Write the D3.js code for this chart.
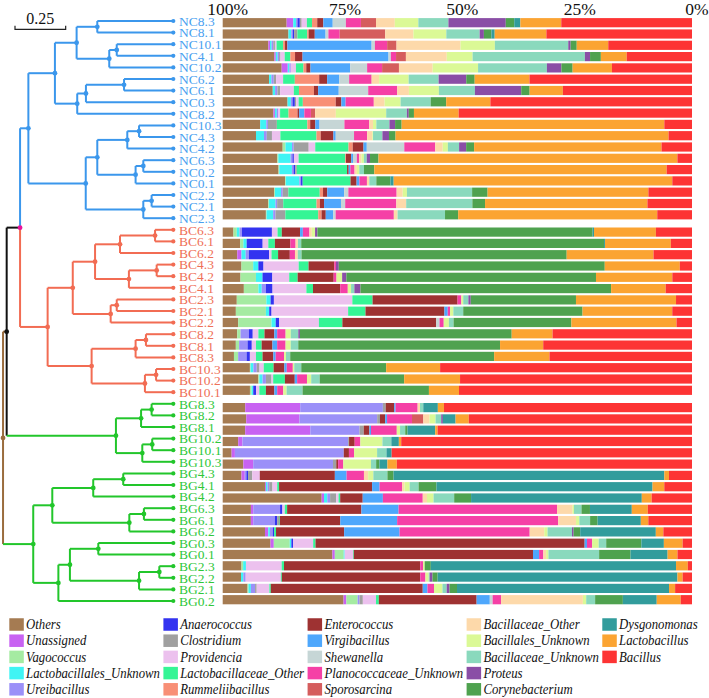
<!DOCTYPE html>
<html><head><meta charset="utf-8">
<script src="https://cdn.jsdelivr.net/npm/d3@7"></script>
<style>body{margin:0;background:#fff}svg{display:block}</style>
</head><body>
<script>
// ---------- DATA ----------
const taxa = ["Others","Unassigned","Vagococcus","Lactobacillales_Unknown","Ureibacillus","Anaerococcus","Clostridium","Providencia","Lactobacillaceae_Other","Rummeliibacillus","Enterococcus","Virgibacillus","Shewanella","Planococcaceae_Unknown","Sporosarcina","Bacillaceae_Other","Bacillales_Unknown","Bacillaceae_Unknown","Proteus","Corynebacterium","Dysgonomonas","Lactobacillus","Bacillus"];
const taxaColors = ["#a57b52","#c862f2","#a5eba2","#3ff4f4","#9b90f8","#3333f0","#a0a0a0","#ecc1ee","#35f595","#f88f76","#9e3232","#4ea7fc","#c6d6d6","#f540a6","#d55d5d","#fdd9aa","#dbf996","#8ad9bd","#8a4ea6","#4fa24f","#329c9c","#fba432","#fd3434"];

const samplesNC = ["NC8.3","NC8.1","NC10.1","NC4.1","NC10.2","NC6.2","NC6.1","NC0.3","NC8.2","NC10.3","NC4.3","NC4.2","NC6.3","NC0.2","NC0.1","NC2.2","NC2.1","NC2.3"];
const samplesBC = ["BC6.3","BC6.1","BC6.2","BC4.3","BC4.2","BC4.1","BC2.3","BC2.1","BC2.2","BC8.2","BC8.1","BC8.3","BC10.3","BC10.2","BC10.1"];
const samplesBG = ["BG8.3","BG8.2","BG8.1","BG10.2","BG10.1","BG10.3","BG4.3","BG4.1","BG4.2","BG6.3","BG6.1","BG6.2","BG0.3","BG0.1","BG2.3","BG2.2","BG2.1","BG0.2"];

// relative abundance (%) per sample, in taxa order
const valuesNC = [
 [13.6,1.4,0,0.6,0.3,0.5,0.4,1.1,1.1,1.1,1.3,2.0,2.8,3.2,3.2,4.0,5.0,6.4,12.2,1.8,1.3,8.7,27.8],
 [14.0,0,0,0.6,0.3,0.3,0.7,0,2.1,0.3,1.3,2.3,0.6,2.4,9.7,6.0,7.0,7.1,0.9,1.6,0.7,11.0,31.0],
 [9.7,0.35,0,0.35,0.35,0,0.35,0.35,1.4,0.4,0.5,17.9,0.7,2.6,2.0,13.6,7.3,15.6,0.5,1.3,0,6.7,17.8],
 [11.0,0.3,0,0.4,0.3,0,0.3,0.9,1.2,1.0,1.6,18.3,0.5,1.1,2.1,8.7,5.5,23.9,1.1,2.3,0,5.5,13.9],
 [12.6,1.3,0,0.35,0.3,0,0,1.1,1.6,0.6,0.9,8.5,3.6,3.2,3.6,7.2,9.7,14.7,3.1,2.4,0,8.4,17.1],
 [9.9,0,0,0.5,0.5,0,0.5,1.5,2.5,5.2,1.7,2.6,2.1,4.8,0,1.6,6.3,6.4,5.9,1.8,0,11.7,34.7],
 [10.7,0,0,0.5,0.5,0,0.6,2.9,1.1,3.2,0.9,4.4,6.3,6.2,0,2.5,6.4,7.7,9.9,1.8,0,7.1,27.6],
 [13.8,0,0,0.7,0.35,0.5,0.3,0.5,0.9,7.0,1.2,0.9,0,6.0,0,2.3,3.4,6.4,0,3.3,0,9.4,42.9],
 [10.8,0.3,0,0.4,0.35,0,0,0.35,1.8,1.9,0.35,1.1,0,1.4,0.9,4.4,10.7,4.4,0.4,1.1,0,9.5,49.6],
 [8.0,0,0,1.3,0.35,0,1.9,0,6.5,0.6,1.1,0.9,5.3,5.3,0,0.8,0.7,2.8,1.2,1.4,0,56.0,5.9],
 [7.1,0,0,1.7,0.6,0,1.1,1.8,7.7,0.9,2.7,0.5,3.9,2.8,0,1.1,0.15,2.0,1.4,1.4,0,58.2,5.0],
 [12.8,0,0.6,1.4,0.35,0,3.2,1.4,7.1,0.9,2.3,0.7,8.0,6.6,0,1.6,1.1,2.4,1.5,1.7,0,40.0,6.5],
 [11.6,0,0.2,2.6,0.4,0.3,0,1.0,9.9,0.15,1.1,0.4,0.8,0.5,0,0.5,0.5,0.6,0.7,1.8,0,63.4,3.1],
 [11.9,0,0.15,2.7,0.35,0.35,0.35,0,10.7,0,0.35,0.35,0,0.9,0,0.5,0.5,1.0,0,2.2,0,62.3,5.4],
 [13.3,0,0.15,2.9,0.35,0.35,0,0,10.2,0,1.3,0.6,0,1.6,0,0.5,0,1.5,0,3.0,0.7,59.4,4.2],
 [11.0,0,0.15,1.3,0.35,0,1.2,0,6.7,0.7,0.9,3.6,0.9,10.3,0,1.3,0.9,13.9,0,3.3,0,34.3,9.3],
 [9.7,0,0.15,1.4,0.35,0,1.3,0,7.1,0.7,0.9,3.6,0.9,10.9,0,2.1,0,14.1,0,2.7,0,34.6,9.5],
 [9.2,0,0.15,1.4,0.5,0,2.1,0,7.0,0.7,0.9,1.6,0.5,12.4,0,0.8,0,10.1,0,2.8,0,42.4,7.4]
];
const valuesBC = [
 [2.3,0,0.7,0.6,0.5,6.4,0,1.2,0.9,0,3.9,0.6,0,1.4,0,0.5,0.7,0,0.5,58.7,0.3,13.2,7.7],
 [3.7,0,0.7,0.7,0,3.4,0,1.2,1.4,0,3.3,0,0,1.1,0,0.5,0,0.7,0,64.4,0.2,14.0,4.5],
 [3.1,0.9,0,0.9,0.7,4.3,0,0.5,1.4,0,2.5,0,0,1.1,0,0.6,0,0.8,0,56.5,0,18.5,8.2],
 [4.0,0,2.5,1.1,0,1.1,0,7.5,2.1,0,5.5,0,0,0.35,0,0,0,0,0.6,56.7,0,16.0,2.6],
 [3.8,0,3.3,1.4,0,2.1,0,3.6,1.8,0,7.7,0,0,0.6,0,0,1.2,0,0.9,53.3,0,16.3,4.2],
 [4.5,0,3.1,0.7,0.9,1.4,0,7.2,1.4,0,5.8,0,0,1.6,0,0,0.7,0.7,1.3,53.3,0,11.6,5.6],
 [3.0,0,6.3,0.9,0,0.7,0,16.7,4.3,0,18.1,0,0,0.8,0,0,0.4,1.1,0.5,22.4,0,21.3,3.4],
 [2.8,0,6.4,0.7,0,0.5,0,16.3,3.7,0,16.8,0.7,0,0.5,0,0,0.7,2.1,0,25.4,0,19.1,4.2],
 [3.3,0,7.1,0.9,0,0.7,0,8.5,5.0,0,20.0,0,0.7,0.9,0,0,1.1,1.0,0,25.1,0,22.4,3.3],
 [3.1,0,0.7,0,1.8,0.8,0,1.2,1.3,0,2.1,0.6,0,1.8,0,0,1.1,1.6,0.35,45.1,0,8.7,29.7],
 [2.8,0,0.7,0,1.8,0.9,0,0.9,1.2,0,2.3,1.0,0,1.8,0,0,1.1,1.6,0,43.0,0,9.2,31.7],
 [2.4,0,0.9,0,1.8,0.7,0,1.3,1.4,0,2.3,0.5,0,1.8,0,0,0.4,0.9,0,43.5,0,11.8,30.4],
 [5.8,0,0.15,0.6,0.7,0,0.6,0.9,2.1,0,2.3,0.5,0,1.3,0,0,0.3,1.5,0,18.1,0,11.5,53.7],
 [7.6,0,0.2,0.7,0.7,0,1.2,0.35,2.5,0,2.1,0.5,0,2.1,0,0,0.9,1.8,0,18.0,0,11.9,49.4],
 [5.8,0,0.35,0.35,0,0.6,0,0.7,1.4,0,1.8,0.6,0,1.3,0,0,0.7,3.4,0,26.9,0,6.4,49.6]
];
const valuesBG = [
 [4.8,11.7,0,0,17.6,0,0.6,0,0,0,1.8,0.3,0,4.7,0,0.5,0,0.7,0,0,3.1,1.3,52.8],
 [5.0,11.3,0,0,16.5,0,0.6,0,0,0,1.1,0.4,0,5.3,2.4,1.3,1.3,1.2,0.35,0,2.7,2.8,47.4],
 [4.8,13.9,0,0,10.5,0,0.9,0,0,0,1.2,0.35,0,5.5,0,0,0.7,1.1,0,0.5,5.9,0.5,54.3],
 [3.3,0.9,0,0,22.5,0,0.2,0,0,0,1.2,0,0,1.2,0,0,4.7,1.9,0,0,1.6,0.5,61.9],
 [1.9,0.7,0,0,23.2,0,0,0,0,0,1.1,0,0,1.1,0,0,4.9,2.0,0,0,1.1,0,64.0],
 [4.4,2.1,0,0,17.0,0,0.7,0,0,0,0.4,0,0,1.1,0,0,5.9,1.1,0,0.7,1.7,2.0,62.9],
 [4.0,0.7,0,0,0.35,0.35,0.9,1.6,0,0,16.0,2.5,0,3.7,0,0.9,1.1,3.0,0,1.3,57.7,1.0,4.9],
 [9.0,0.2,0,0.35,0.35,0,0.7,1.0,0.4,0,19.8,1.6,0,4.8,0,0.5,1.1,1.9,0,3.8,46.0,2.5,5.9],
 [21.1,0.5,0,0.7,0.6,0,1.3,0.5,0.35,0,4.8,4.3,0,8.5,0,0.9,1.4,4.4,0,3.6,36.4,2.1,8.6],
 [6.0,0.5,0,0,5.7,0.5,0,0.5,0.5,0,15.8,7.9,0,33.7,0,3.3,0.3,1.6,0,1.8,8.9,3.4,9.4],
 [6.0,0.5,0,0,4.6,0.5,0.4,0,0.15,0,12.9,12.1,0,34.3,0,3.8,0.7,2.3,0,1.6,9.2,1.6,9.3],
 [9.0,0.7,0,0.35,0.6,0.3,0,0,0.4,0,14.5,11.8,0,27.7,0,3.1,0.7,5.2,0.35,1.4,16.1,1.6,6.1],
 [10.2,0.7,3.4,0.35,0,0.35,0,4.3,0.5,0,57.4,0.5,0,1.1,0,0,1.4,1.6,0,7.5,4.8,4.0,2.0],
 [23.4,0.5,1.9,0.2,0,0,0,1.8,0.15,0,38.2,1.3,0,0.9,0,0.6,0.5,10.8,0,6.7,7.9,2.1,3.1],
 [4.0,0,0.35,0.6,0,0,0,7.6,0.5,0,29.0,0,0,0.6,0,0,0.35,0,0,1.3,52.2,2.5,0.9],
 [3.9,0,0,0.5,0.5,0,0,7.5,0.2,0,29.5,0,0,1.1,0,0,0.7,0.2,0.6,1.1,51.1,1.1,2.0],
 [5.3,0,0.2,0.5,0.9,0,0.35,2.7,0.3,0,32.4,1.0,0,1.4,0,0,1.8,0.9,0.6,1.6,45.2,1.3,3.6],
 [25.7,0.6,2.4,0,0.4,0,0.7,2.8,0.6,0,20.8,2.8,0.6,1.8,0,17.4,0.7,1.9,0,5.9,7.2,5.1,2.4]
];

const tickValues = [100, 75, 50, 25, 0];
const tickLabels = ["100%", "75%", "50%", "25%", "0%"];
const scaleBarValue = 0.25;
const scaleBarLabel = "0.25";

// clustering tree: [height, child, child]; leaves are sample names
const tree = [0.840,
  [0.822,
    [0.756,
      [0.715,
        [0.584,
          [0.477, [0.375, "NC8.3", "NC8.1"], [0.316, [0.279, "NC10.1", "NC4.1"], "NC10.2"]],
          [0.474, [0.431, [0.243, "NC6.2", "NC6.1"], "NC0.3"], "NC8.2"]],
        [0.432,
          [0.375, [0.227, [0.169, "NC10.3", "NC4.3"], "NC4.2"], [0.186, [0.148, "NC6.3", "NC0.2"], "NC0.1"]],
          [0.148, [0.107, "NC2.2", "NC2.1"], "NC2.3"]]],
      [0.620,
        [0.496,
          [0.386, [0.263, [0.090, "BC6.3", "BC6.1"], "BC6.2"], [0.219, [0.082, "BC4.3", "BC4.2"], "BC4.1"]],
          [0.309, [0.279, "BC2.3", "BC2.1"], "BC2.2"]],
        [0.403,
          [0.186, [0.135, "BC8.2", "BC8.1"], "BC8.3"],
          [0.140, [0.085, "BC10.3", "BC10.2"], "BC10.1"]]]],
    [0.283, [0.159, [0.107, "BG8.3", "BG8.2"], "BG8.1"], [0.153, [0.104, "BG10.2", "BG10.1"], "BG10.3"]]],
  [0.691,
    [0.597, [0.395, [0.247, "BG4.3", "BG4.1"], "BG4.2"], [0.217, [0.145, "BG6.3", "BG6.1"], "BG6.2"]],
    [0.567, [0.510, [0.370, "BG0.3", "BG0.1"], [0.169, [0.069, "BG2.3", "BG2.2"], "BG2.1"]], "BG0.2"]]];

// ---------- STYLE ----------
const groupLine = {NC: "#3b97ec", BC: "#f26c53", BG: "#22c62b"};
const groupText = {NC: "#4a9ff0", BC: "#ef7058", BG: "#2fc73a"};
const rootColor = "#9a6c3e", pinkColor = "#e8149b", blackColor = "#111";
const serif = "'Liberation Serif','Times New Roman',serif";

const W = 709, H = 698;
const svg = d3.select("body").append("svg").attr("width", W).attr("height", H);

// ---------- BARS ----------
const groups = [samplesNC, samplesBC, samplesBG];
const groupVals = [valuesNC, valuesBC, valuesBG];
const rows = [];
groups.forEach((names, g) => names.forEach((n, i) => rows.push({name: n, g, vals: groupVals[g][i], idx: rows.length})));
const allNames = rows.map(r => r.name);

const xBar = d3.scaleLinear().domain([100, 0]).range([222.7, 692]);
const gapSlots = 0.531;
const ySlot = d3.scaleLinear().domain([0, rows.length - 1 + 2 * gapSlots]).range([22.7, 599.7]);
const barH = 9.2;

const barG = svg.append("g");
rows.forEach(r => {
  const total = d3.sum(r.vals);
  let cum = 0;
  const segs = r.vals.map((v, j) => {
    const p = v / total * 100;
    const s = {j, a: cum, b: cum + p};
    cum += p;
    return s;
  }).filter(s => s.b > s.a);
  const yc = ySlot(r.idx + r.g * gapSlots);
  barG.append("g").selectAll("rect").data(segs).join("rect")
    .attr("x", d => xBar(100 - d.a))
    .attr("width", d => xBar(100 - d.b) - xBar(100 - d.a))
    .attr("y", yc - barH / 2)
    .attr("height", barH)
    .attr("fill", d => taxaColors[d.j]);
});

// axis
const axis = d3.axisTop(xBar).tickValues(tickValues).tickSize(0).tickPadding(0)
  .tickFormat((d, i) => tickLabels[i]);
const axG = svg.append("g").attr("transform", "translate(0,15)").call(axis);
axG.select(".domain").remove();
axG.selectAll("text").attr("font-family", serif).attr("font-size", 17.5).attr("fill", "#111").attr("dx", 4.5);

// ---------- LABELS ----------
const yLeaf = d3.scalePoint().domain(allNames).range([21, 601]);
const grpOf = n => n.slice(0, 2);
svg.append("g").selectAll("text").data(allNames).join("text")
  .attr("x", 179).attr("y", d => yLeaf(d)).attr("dy", "0.35em")
  .attr("font-family", serif).attr("font-size", 13.5)
  .attr("fill", d => groupText[grpOf(d)]).text(d => d);

// ---------- TREE ----------
const leafX = 173.3, unitPx = 202.7;
const xTree = d3.scaleLinear().domain([0, 1]).range([leafX, leafX - unitPx]);
function build(t) {
  if (typeof t === "string") return {name: t, h: 0};
  return {h: t[0], children: [build(t[1]), build(t[2])]};
}
const root = d3.hierarchy(build(tree));
root.eachAfter(n => {
  n.x = xTree(n.data.h);
  if (n.children) {
    n.y = d3.mean(n.children, c => c.y);
    const gs = new Set(n.leaves().map(l => grpOf(l.data.name)));
    n.grp = gs.size === 1 ? [...gs][0] : null;
  } else {
    n.y = yLeaf(n.data.name);
    n.grp = grpOf(n.data.name);
  }
});
root.each(n => {
  if (n.grp) { n.col = groupLine[n.grp]; n.dot = groupLine[n.grp]; n.vcol = groupLine[n.grp]; }
});
root.col = rootColor; root.dot = rootColor; root.vcol = rootColor;
const blackNode = root.children[0];
blackNode.col = rootColor; blackNode.dot = blackColor; blackNode.vcol = blackColor;
const pinkNode = blackNode.children[0];
pinkNode.col = blackColor; pinkNode.dot = pinkColor; pinkNode.vcol = null;

const treeG = svg.append("g").attr("fill", "none").attr("stroke-width", 2);
root.descendants().forEach(n => {
  if (!n.parent) return;
  const p = n.parent;
  const vc = p.vcol || n.col;
  treeG.append("path").attr("d", `M${p.x},${p.y}V${n.y}`).attr("stroke", vc);
  treeG.append("path").attr("d", `M${p.x},${n.y}H${n.x}`).attr("stroke", n.col);
});
svg.append("g").selectAll("circle").data(root.descendants()).join("circle")
  .attr("cx", d => d.x).attr("cy", d => d.y)
  .attr("r", d => d.children ? 2.4 : 2.1)
  .attr("fill", d => d.dot);

// scale bar
const sbY = 29.3, sbX0 = 15;
const sbX1 = sbX0 + (xTree(0) - xTree(scaleBarValue));
svg.append("path").attr("d", `M${sbX0},${sbY - 3.5}V${sbY}H${sbX1}V${sbY - 3.5}`)
  .attr("fill", "none").attr("stroke", "#222").attr("stroke-width", 1.2);
svg.append("text").attr("x", (sbX0 + sbX1) / 2).attr("y", 24).attr("text-anchor", "middle")
  .attr("font-family", serif).attr("font-size", 16).attr("fill", "#111").text(scaleBarLabel);

// ---------- LEGEND ----------
const legRows = 5, legY0 = 624.5, legStep = 16.2, swW = 14.5, swH = 12.5, sx = 0.88;
const legG = svg.append("g");
let colX = 9.3;
for (let c = 0; c * legRows < taxa.length; c++) {
  const items = taxa.slice(c * legRows, (c + 1) * legRows);
  let maxW = 0;
  items.forEach((t, r) => {
    const j = c * legRows + r;
    const yc = legY0 + r * legStep;
    legG.append("rect").attr("x", colX).attr("y", yc - swH / 2).attr("width", swW).attr("height", swH)
      .attr("fill", taxaColors[j]);
    const tx = legG.append("text")
      .attr("transform", `translate(${colX + 16.8},${yc + 4.6}) scale(${sx},1)`)
      .attr("font-family", serif).attr("font-style", "italic").attr("font-size", 14.5)
      .attr("fill", "#111").text(t);
    maxW = Math.max(maxW, tx.node().getComputedTextLength() * sx);
  });
  colX = colX + 16.8 + maxW + 3.5;
}
</script>
</body></html>
